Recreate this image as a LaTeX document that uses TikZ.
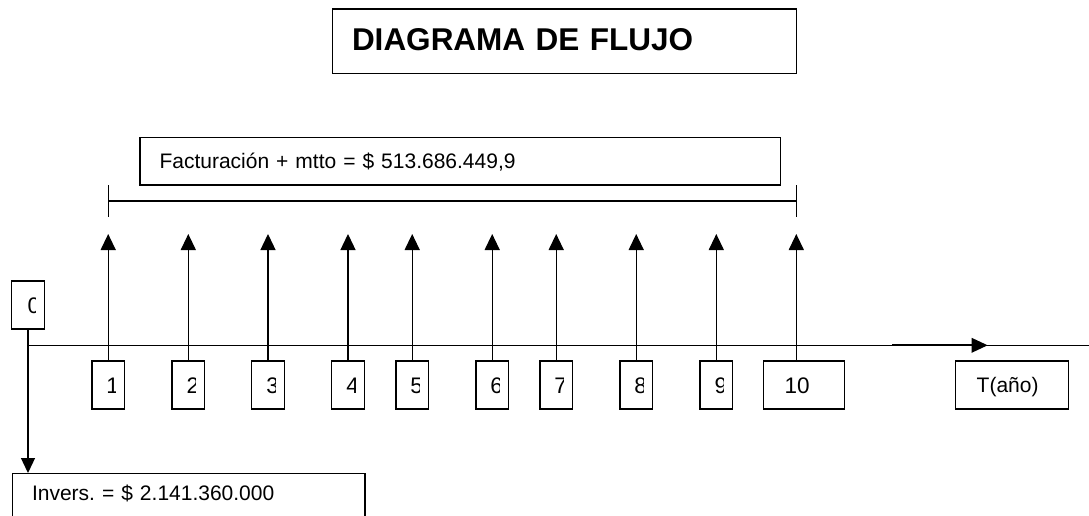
\documentclass[tikz,border=0pt]{standalone}
\usepackage{fontspec}
\setmainfont{Liberation Sans}
\usetikzlibrary{arrows.meta}
\begin{document}
\frenchspacing
\begin{tikzpicture}[x=1pt,y=-1pt,
  box/.style={draw, line width=1.3pt, inner sep=0pt},
  lab/.style={font=\fontsize{21pt}{25pt}\selectfont},
  diglab/.style={font=\fontsize{22.5pt}{26pt}\selectfont},
  numbox/.style={box, minimum width=32.6pt, minimum height=48pt},
  arr/.style={line width=1.3pt, -{Triangle[length=16pt,width=15pt]}},
  digit/.style={diglab, anchor=base west, inner sep=0pt}
]
\clip (0,0) rectangle (1089,516);
\fill[white] (0,0) rectangle (1089,516);

% title
\node[box, minimum height=64.5pt, text width=424.8pt, inner xsep=19.7pt, align=left,
      text height=22.5pt, text depth=3pt,
      font=\fontsize{31.5pt}{36pt}\selectfont\bfseries] (title) at (564.4,41.25) {DIAGRAMA DE FLUJO};

% income box
\node[box, lab, minimum height=47.7pt, text width=601.3pt, inner xsep=19.5pt, align=left,
      text height=15pt, text depth=0pt] (fact) at (460.15,161.15) {Facturación + mtto = \$ 513.686.449,9};

% bracket
\coordinate (brL) at (108.3,201);
\coordinate (brR) at (796.3,201);
\draw[line width=1.3pt] (brL) -- (brR);
\draw[line width=1.3pt] ([yshift=16pt]brL) -- ([yshift=-16.3pt]brL);
\draw[line width=1.3pt] ([yshift=16pt]brR) -- ([yshift=-16.3pt]brR);

% time axis
\coordinate (ax0) at (28,345.3);
\coordinate (ax1) at (1089,345.3);
\draw[line width=1.3pt] (ax0) -- (ax1);
\coordinate (tk0) at (892.3,345.3);
\coordinate (tk1) at (987.7,345.3);
\draw[line width=2pt, -{Triangle[length=16pt,width=14.4pt]}] (tk0) -- (tk1);

% period boxes 1..9
\foreach \n/\x in {1/108.2, 2/188.3, 3/268, 4/348, 5/412.2, 6/492.2, 7/556.2, 8/636.2, 9/716.3} {
  \node[numbox] (b\n) at (\x,385) {};
  \begin{scope}
    \clip ([xshift=1pt]b\n.south west) rectangle ([xshift=-9.5pt]b\n.north east);
    \node[digit] (d\n) at ([xshift=15pt,yshift=-8pt]b\n.west) {\n};
  \end{scope}
  \coordinate (t\n) at (\x,234);
  \draw[arr] (b\n.north) -- (t\n);
}

% period 10
\node[box, diglab, minimum height=48pt, text width=38.6pt, inner xsep=21pt, align=left,
      text height=16pt, text depth=0pt] (b10) at (804,385) {10};
\coordinate (s10) at (796.3,361);
\coordinate (t10) at (796.3,234);
\draw[arr] (s10) -- (t10);

% time label
\node[box, lab, minimum height=48pt, text width=70.6pt, inner xsep=21pt, align=left,
      text height=15pt, text depth=0pt] (T) at (1012,385) {T(año)};

% period 0
\node[numbox] (b0) at (28,305) {};
\begin{scope}
  \clip ([xshift=1pt]b0.south west) rectangle ([xshift=-9.5pt]b0.north east);
  \node[digit] (d0) at ([xshift=16.3pt,yshift=-8pt]b0.west) {0};
\end{scope}

% investment box
\node[box, lab, anchor=north west, text width=313.5pt, inner xsep=19.4pt, inner ysep=12pt,
      align=left, text height=15pt, text depth=40pt] (inv) at (12,473) {Invers. = \$ 2.141.360.000};
\draw[line width=1.3pt, -{Triangle[length=15pt,width=14pt]}] (b0.south) -- (b0.south |- inv.north);
\end{tikzpicture}
\end{document}
